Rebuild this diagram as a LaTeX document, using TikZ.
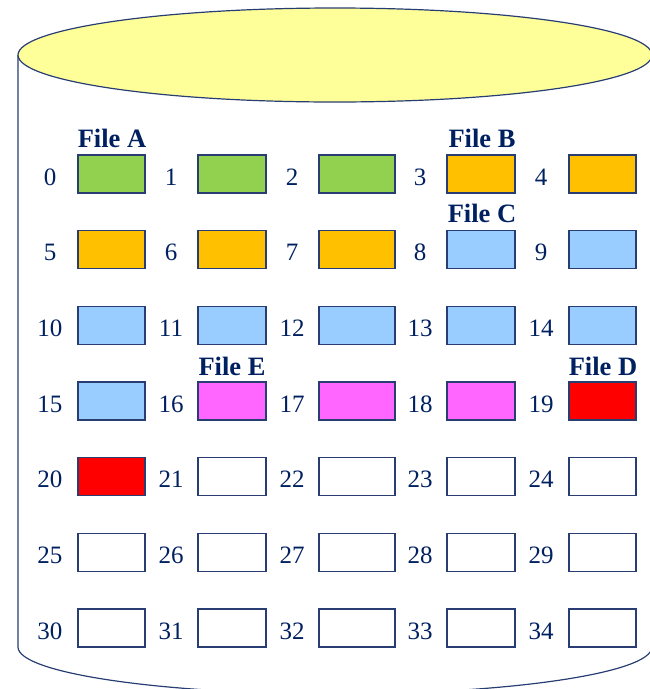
\documentclass[tikz,border=0pt]{standalone}
\usepackage{fontspec}
\setmainfont{Liberation Serif}
\definecolor{navy}{RGB}{0,32,96}
\definecolor{edge}{RGB}{40,62,115}
\definecolor{topfill}{RGB}{255,255,153}
\definecolor{fileA}{RGB}{146,208,80}
\definecolor{fileB}{RGB}{255,192,0}
\definecolor{fileC}{RGB}{153,204,255}
\definecolor{fileE}{RGB}{255,102,255}
\definecolor{fileD}{RGB}{255,0,0}
\definecolor{free}{RGB}{255,255,255}
\begin{document}
\begin{tikzpicture}[x=1pt,y=-1pt,
  cyl/.style={draw=edge,line width=1.2pt},
  blk/.style={draw=edge,line width=1.2pt,minimum height=38pt,inner sep=0pt,outer sep=0pt},
  num/.style={text=navy,font=\fontsize{25}{25}\selectfont,anchor=base,inner sep=0pt},
  flabel/.style={text=navy,font=\fontsize{26.5}{26.5}\selectfont\bfseries,anchor=base,inner sep=0pt}]
\useasboundingbox (0,0) rectangle (650,689);
\clip (0,0) rectangle (650,689);
% cylinder
\draw[cyl] (18,55) -- (18,647) arc[start angle=180,end angle=0,x radius=317,y radius=47] -- (652,55);
\draw[cyl,fill=topfill] (335,55) ellipse [x radius=317,y radius=47];
% blocks
\def\fills{{"fileA","fileA","fileA","fileB","fileB","fileB","fileB","fileB","fileC","fileC","fileC","fileC","fileC","fileC","fileC","fileC","fileE","fileE","fileE","fileD","fileD","free","free","free","free","free","free","free","free","free","free","free","free","free","free"}}
\foreach \r in {0,...,6}{
  \foreach \c/\cx/\w/\nx in {0/111.5/67/50, 1/232/68/171, 2/357/76/292, 3/481/68/420, 4/602.5/67/541}{
    \pgfmathtruncatemacro\k{5*\r+\c}
    \pgfmathsetmacro\cy{174+75.67*\r}
    \pgfmathsetmacro\f{\fills[\k]}
    \node[blk,minimum width=\w pt,fill=\f] (b\k) at (\cx,\cy) {};
    \node[num] (n\k) at (\nx,\cy+11) {\k};
  }
}
% file labels
\node[flabel] (fa) at (112,147) {File A};
\node[flabel] (fb) at (482,147) {File B};
\node[flabel] (fc) at (482,222) {File C};
\node[flabel] (fe) at (232,375) {File E};
\node[flabel] (fd) at (603,375) {File D};
\end{tikzpicture}
\end{document}
